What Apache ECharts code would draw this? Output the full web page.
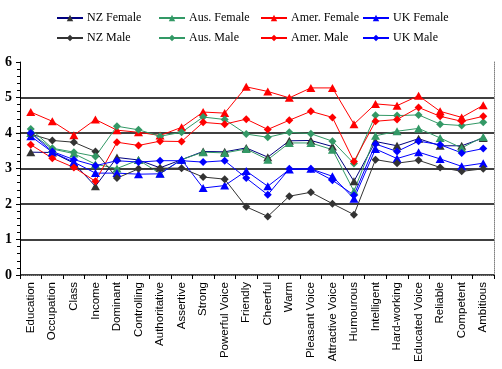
<!DOCTYPE html>
<html>
<head>
<meta charset="utf-8">
<script src="https://cdn.jsdelivr.net/npm/echarts@6/dist/echarts.min.js"></script>
<style>
html,body{margin:0;padding:0;background:#fff;}
#chart{width:502px;height:369px;}
</style>
</head>
<body>
<div id="chart"></div>
<script>
const categories = ['Education','Occupation','Class','Income','Dominant','Controlling','Authoritative','Assertive','Strong','Powerful Voice','Friendly','Cheerful','Warm','Pleasant Voice','Attractive Voice','Humourous','Intelligent','Hard-working','Educated Voice','Reliable','Competent','Ambitious'];

const nzFemale   = [3.46,3.45,3.15,2.50,3.31,3.24,3.02,3.25,3.48,3.47,3.58,3.32,3.78,3.79,3.62,2.64,3.76,3.64,3.84,3.64,3.64,3.86];
const ausFemale  = [4.00,3.55,3.42,3.12,3.00,3.24,2.86,3.25,3.46,3.44,3.55,3.25,3.72,3.72,3.53,2.36,3.92,4.05,4.13,3.86,3.58,3.89];
const amerFemale = [4.59,4.33,3.94,4.38,4.08,4.02,3.93,4.16,4.59,4.56,5.30,5.17,4.99,5.27,5.27,4.25,4.82,4.77,5.05,4.61,4.44,4.78];
const ukFemale   = [3.91,3.46,3.18,2.87,2.87,2.84,2.85,3.25,2.45,2.52,2.93,2.50,2.97,2.99,2.78,2.15,3.55,3.28,3.46,3.27,3.06,3.15];
const nzMale     = [3.97,3.79,3.74,3.48,2.73,2.99,3.01,3.01,2.76,2.70,1.92,1.65,2.22,2.33,2.01,1.70,3.25,3.15,3.23,3.03,2.92,2.99];
const ausMale    = [4.11,3.57,3.46,3.34,4.19,4.09,3.91,4.02,4.45,4.38,3.97,3.88,4.02,3.98,3.77,3.14,4.50,4.49,4.51,4.25,4.21,4.30];
const amerMale   = [3.67,3.29,3.03,2.64,3.74,3.65,3.77,3.76,4.30,4.25,4.39,4.10,4.36,4.61,4.44,3.20,4.33,4.38,4.72,4.47,4.33,4.47];
const ukMale     = [4.00,3.48,3.25,3.08,3.22,3.18,3.22,3.22,3.18,3.22,2.73,2.26,2.99,2.99,2.67,2.25,3.69,3.48,3.77,3.67,3.44,3.56];

const yTicks = [0,1,2,3,4,5,6];

const seriesDefs = [
  {name:'NZ Female',   data:nzFemale,   line:'#000080', mark:'#333333', symbol:'triangle'},
  {name:'Aus. Female', data:ausFemale,  line:'#339966', mark:'#339966', symbol:'triangle'},
  {name:'Amer. Female',data:amerFemale, line:'#FF0000', mark:'#FF0000', symbol:'triangle'},
  {name:'UK Female',   data:ukFemale,   line:'#0000FF', mark:'#0000FF', symbol:'triangle'},
  {name:'NZ Male',     data:nzMale,     line:'#333333', mark:'#333333', symbol:'diamond'},
  {name:'Aus. Male',   data:ausMale,    line:'#339966', mark:'#339966', symbol:'diamond'},
  {name:'Amer. Male',  data:amerMale,   line:'#FF0000', mark:'#FF0000', symbol:'diamond'},
  {name:'UK Male',     data:ukMale,     line:'#0000FF', mark:'#0000FF', symbol:'diamond'}
];

const colX = [56,158,260,362];
const rowY = [12,32];

const chart = echarts.init(document.getElementById('chart'), null, {renderer:'canvas'});
chart.setOption({
  animation:false,
  backgroundColor:'#fff',
  legend: seriesDefs.map((s,i)=>({
    data:[s.name],
    left: colX[i%4],
    top: rowY[Math.floor(i/4)],
    padding:0,
    itemWidth:26,
    itemHeight:8,
    itemGap:0,
    selectedMode:false,
    textStyle:{fontFamily:'Liberation Serif', fontSize:12, color:'#000', padding:[0,0,0,-1]}
  })),
  grid:{left:20,right:8,top:62,bottom:94,containLabel:false},
  xAxis:[{
    type:'category',
    data:categories,
    boundaryGap:true,
    axisLine:{show:true,lineStyle:{color:'#000',width:1}},
    axisTick:{show:true,length:4,lineStyle:{color:'#000'}},
    axisLabel:{rotate:90,interval:0,margin:7,fontFamily:'Liberation Sans',fontSize:11.5,color:'#000'},
    splitLine:{show:false}
  },{
    type:'category',
    data:categories,
    position:'top',
    axisLine:{show:true,lineStyle:{color:'#808080',type:'dotted',width:1}},
    axisTick:{show:false},
    axisLabel:{show:false}
  }],
  yAxis:[{
    type:'value',
    min:0,max:6,interval:1,
    axisLine:{show:true,lineStyle:{color:'#000',width:1}},
    axisTick:{show:true,length:4,lineStyle:{color:'#000'}},
    minorTick:{show:true,splitNumber:5,length:3,lineStyle:{color:'#000'}},
    axisLabel:{margin:8,fontFamily:'Liberation Serif',fontSize:14,fontWeight:'bold',color:'#000',
      formatter:(v)=> yTicks.includes(v) ? String(v) : ''},
    splitLine:{show:true,lineStyle:{color:['#000','#000','#000','#000','#000','#000','rgba(0,0,0,0)'],width:1.5}}
  },{
    type:'value',
    min:0,max:6,interval:1,
    position:'right',
    axisLine:{show:true,lineStyle:{color:'#808080',type:'dotted',width:1}},
    axisTick:{show:false},
    axisLabel:{show:false},
    splitLine:{show:false}
  }],
  series: seriesDefs.map(s=>({
    name:s.name,
    type:'line',
    data:s.data,
    symbol:s.symbol,
    symbolSize:s.symbol==='triangle'?[9,8]:[8,8],
    showAllSymbol:true,
    lineStyle:{color:s.line,width:1},
    itemStyle:{color:s.mark,borderWidth:0},
    emphasis:{disabled:true}
  }))
});
</script>
</body>
</html>
